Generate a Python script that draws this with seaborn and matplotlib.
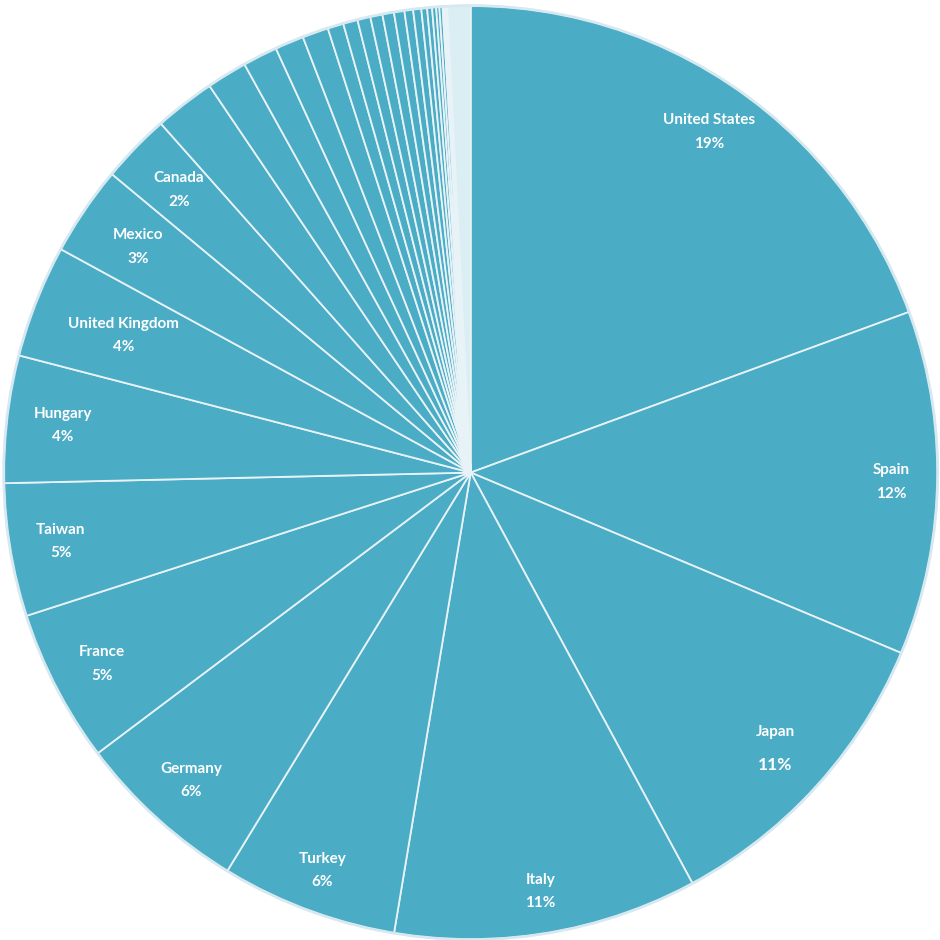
import matplotlib
matplotlib.use("Agg")
import matplotlib.pyplot as plt
import seaborn as sns
import numpy as np

sns.set_theme(style="white")
plt.rcParams['font.family'] = ['Lato', 'DejaVu Sans']

# country shares (%), clockwise from 12 o'clock
countries = ["United States", "Spain", "Japan", "Italy", "Turkey", "Germany", "France",
             "Taiwan", "Hungary", "United Kingdom", "Mexico", "Canada"]
shares = [19.4, 11.9, 10.8, 10.5, 6.1, 6.0, 5.3, 4.6, 4.4, 3.9, 3.1, 2.4]
pct_labels = ["19%", "12%", "11%", "11%", "6%", "6%", "5%", "5%", "4%", "4%", "3%", "2%"]
# unlabeled smaller markets
small_shares = [2.1, 1.4, 1.2, 1.0, 0.9, 0.55, 0.5, 0.45, 0.42, 0.4, 0.36, 0.3,
                0.28, 0.2, 0.17, 0.14, 0.11, 0.11, 0.06, 0.05, 0.05]
other_share = 0.8

values = shares + small_shares + [other_share]
colors = ["#4BACC6"] * (len(shares) + len(small_shares)) + ["#DAEEF3"]

fig = plt.figure(figsize=(9.4, 9.4), dpi=100)
ax = fig.add_axes([0, 0, 1, 1])
wedges, _ = ax.pie(values, colors=colors, startangle=90, counterclock=False,
                   wedgeprops=dict(edgecolor="#E8F3F7", linewidth=1.3))
ax.add_patch(plt.Circle((0, 0), 1.0, fill=False, edgecolor="#D6E9F0", linewidth=2))

dist = [0.89, 0.90, 0.88, 0.91, 0.91, 0.89, 0.89, 0.89, 0.88, 0.80, 0.86, 0.87]
for w, name, pct, d in zip(wedges, countries, pct_labels, dist):
    ang = np.deg2rad((w.theta1 + w.theta2) / 2)
    x, y = d * np.cos(ang), d * np.sin(ang)
    big = name == "Japan"
    gap = 0.035 if big else 0.025
    ax.text(x, y + gap, name, ha="center", va="center", color="white",
            fontsize=11, fontweight="bold")
    ax.text(x, y - gap, pct, ha="center", va="center", color="white",
            fontsize=12.5 if big else 11, fontweight="bold")

ax.set_xlim(-1.008, 1.005)
ax.set_ylim(-1.0, 1.011)
ax.set_aspect("equal")
ax.axis("off")
fig.savefig("out.png", dpi=100, facecolor="white")
